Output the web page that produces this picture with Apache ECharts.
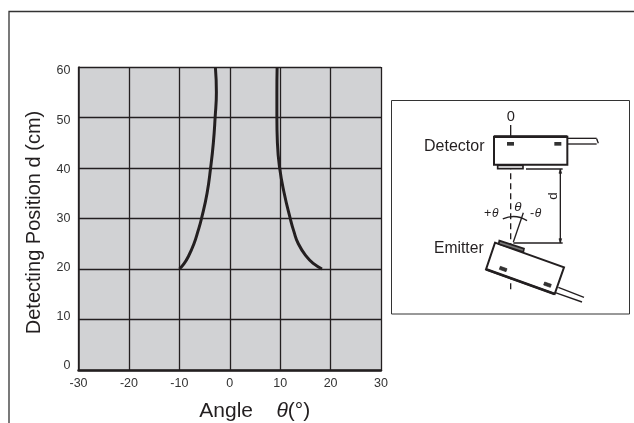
<!DOCTYPE html>
<html><head><meta charset="utf-8">
<style>html,body{margin:0;padding:0;background:#fff}#c{width:634px;height:423px}</style>
<script src="https://cdn.jsdelivr.net/npm/echarts@6/dist/echarts.min.js"></script>
</head><body><div id="c"></div>
<script>
const xTicks = [-30,-20,-10,0,10,20,30];
const yTicks = [0,10,20,30,40,50,60];
const depth = [20,21,22.5,25,27.5,30,35,40,45,50,55,60];
const leftAngle = [-10,-9.1,-8.2,-7.1,-6.3,-5.6,-4.5,-3.8,-3.25,-2.9,-2.65,-2.85];
const rightAngle = [18.3,16.7,15.2,13.6,12.7,12,10.8,9.9,9.45,9.35,9.35,9.4];
const ink = '#231f20';
const F = '"Liberation Sans",Arial,sans-serif';
function line(x1,y1,x2,y2,w,dash){return {type:'line',shape:{x1,y1,x2,y2},style:{stroke:ink,lineWidth:w||4,lineDash:dash||null}};}
function poly(points,w,fill){return {type:'polygon',shape:{points},style:{stroke:ink,lineWidth:w||5,fill:fill||'#fff'}};}
function txt(x,y,t,size,extra){return {type:'text',x,y,style:Object.assign({text:t,font:size+'px '+F,fill:ink,textAlign:'left',textVerticalAlign:'middle'},extra||{})};}
const diagram = [
  line(392,105,392,140,4),line(392,190,392,600,4,[18,12]),
  poly([[342,140],[562,140],[562,224],[342,224]],6),
  line(342,140,562,140,8),
  {type:'rect',shape:{x:353,y:226,width:76,height:10},style:{fill:'#fff',stroke:ink,lineWidth:5}},
  {type:'rect',shape:{x:381,y:156,width:21,height:11},style:{fill:'#333'}},
  {type:'rect',shape:{x:523,y:156,width:21,height:11},style:{fill:'#333'}},
  line(562,145,650,145,4),line(562,162,650,162,4),line(650,146,655,160,4),
  line(438,237,548,237,4),line(400,459,548,459,4),line(541,237,541,459,4),
  poly([[541,237],[537,250],[545,250]],2,ink),poly([[541,459],[537,446],[545,446]],2,ink),
  poly([[345,458],[552,532],[524,612],[318,538]],6),
  line(318,538,524,612,8),
  poly([[358,452],[432,476],[430,486],[356,462]],5,'#777'),
  poly([[361,529],[381,536],[378,545],[358,538]],2,'#333'),
  poly([[494,576],[514,583],[511,592],[491,585]],2,'#333'),
  line(535,592,612,622,4),line(526,608,606,636,4),
  line(400,456,430,368,4),
  {type:'arc',shape:{cx:400,cy:456,r:76,startAngle:-2.0,endAngle:-1.0,clockwise:true},style:{stroke:ink,lineWidth:4,fill:null}},
  txt(380,80,'0',44),txt(132,170,'Detector',48),txt(162,476,'Emitter',47),
  {type:'text',x:519,y:318,rotation:Math.PI/2,style:{text:'d',font:'40px '+F,fill:ink,textAlign:'center',textVerticalAlign:'middle'}},
  txt(312,372,'+',38),txt(336,372,'θ',36,{font:'italic 36px '+F}),
  txt(450,372,'-',38),txt(464,372,'θ',36,{font:'italic 36px '+F}),
  txt(403,352,'θ',40,{font:'italic 40px '+F})
];
const zip = (a,b)=>a.map((v,i)=>[v,b[i]]);
const chart = echarts.init(document.getElementById('c'),null,{renderer:'canvas'});
const lineStyleCurve = {color:ink,width:3};
chart.setOption({
  animation:false,
  backgroundColor:'#fff',
  grid:[
    {left:78.5,top:67,width:302.5,height:303,backgroundColor:'#d1d2d4',show:true,borderWidth:0,outerBoundsMode:'none'},
    {left:78.5,top:71,width:302.5,height:295,show:false,outerBoundsMode:'none'}
  ],
  xAxis:[
    {type:'value',gridIndex:0,min:-30,max:30,interval:10,
    axisLine:{show:true,onZero:false,lineStyle:{color:ink,width:2.5}},axisTick:{show:false},
    splitLine:{show:true,lineStyle:{color:ink,width:1.3}},
    axisLabel:{color:'#333',fontFamily:F,fontSize:12.5,margin:7,showMinLabel:true,showMaxLabel:true},
    name:'{a|Angle    }{t|θ}{a|(°)}',nameLocation:'middle',nameGap:31,
    nameTextStyle:{padding:[0,0,0,50],rich:{a:{fontFamily:F,fontSize:21,color:ink},t:{fontFamily:F,fontSize:21,fontStyle:'italic',color:ink}}}},
    {type:'value',gridIndex:1,min:-30,max:30,show:false}
  ],
  yAxis:[
    {type:'value',gridIndex:0,min:0,max:60,interval:10,
    axisLine:{show:true,onZero:false,lineStyle:{color:ink,width:1.5}},axisTick:{show:false},
    splitLine:{show:true,lineStyle:{color:ink,width:1.3}},
    axisLabel:{show:false},
    name:'Detecting Position d (cm)',nameLocation:'middle',nameGap:34,
    nameTextStyle:{fontFamily:F,fontSize:20,color:ink,padding:[0,8,0,0]}},
    {type:'value',gridIndex:1,min:0,max:60,interval:10,
    axisLine:{show:false},axisTick:{show:false},splitLine:{show:false},
    axisLabel:{color:'#333',fontFamily:F,fontSize:12.5,margin:8}}
  ],
  series:[
    {type:'line',data:zip(leftAngle,depth),smooth:0.5,showSymbol:false,lineStyle:lineStyleCurve,z:5},
    {type:'line',data:zip(rightAngle,depth),smooth:0.5,showSymbol:false,lineStyle:lineStyleCurve,z:5}
  ],
  graphic:[
    {type:'polyline',shape:{points:[[9,423],[9,11.5],[634,11.5]]},style:{stroke:'#333',lineWidth:1.3,fill:null},silent:true},
    {type:'rect',shape:{x:391.5,y:100.5,width:238,height:213.5},style:{stroke:'#333',lineWidth:1,fill:'#fff'},silent:true},
    {type:'group',x:380,y:90,scaleX:1/3,scaleY:1/3,silent:true,children:diagram}
  ]
});
</script></body></html>
